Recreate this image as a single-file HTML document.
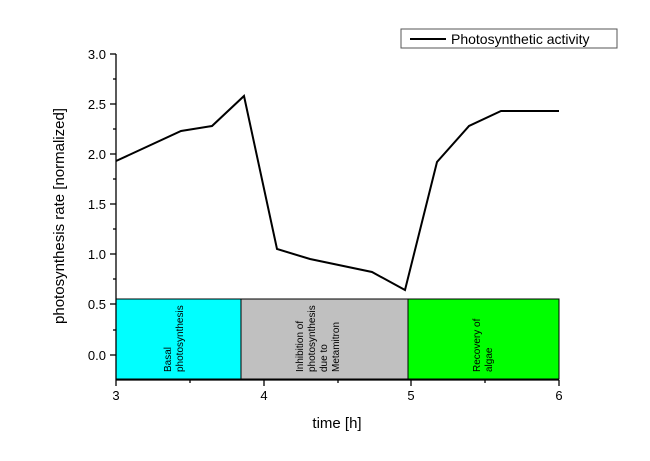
<!DOCTYPE html>
<html><head><style>body{margin:0;background:#fff}</style></head><body>
<svg width="650" height="456" xmlns="http://www.w3.org/2000/svg" font-family="Liberation Sans, sans-serif">
<rect width="650" height="456" fill="#fff"/>
<rect x="116" y="299" width="125" height="80" fill="#00ffff" stroke="#000" stroke-width="1"/>
<rect x="241" y="299" width="167" height="80" fill="#c0c0c0" stroke="#000" stroke-width="1"/>
<rect x="408" y="299" width="151" height="80" fill="#00ff00" stroke="#000" stroke-width="1"/>
<g font-size="10" fill="#000">
<text transform="translate(171,372) rotate(-90)">Basal</text>
<text transform="translate(183,372) rotate(-90)">photosynthesis</text>
<text transform="translate(303,372) rotate(-90)">Inhibition of</text>
<text transform="translate(315,372) rotate(-90)">photosynthesis</text>
<text transform="translate(327,372) rotate(-90)">due to</text>
<text transform="translate(339,372) rotate(-90)">Metamitron</text>
<text transform="translate(480,372) rotate(-90)">Recovery of</text>
<text transform="translate(492,372) rotate(-90)">algae</text>
</g>
<polyline fill="none" stroke="#000" stroke-width="2" points="116,161 181,131 212,126 244,96 277,249 310,259 372,272 405,290 437,162 469,126 501,111 559,111"/>
<g stroke="#000" stroke-width="1.3">
<line x1="116" y1="54" x2="116" y2="380"/>
<line x1="116" y1="380" x2="559" y2="380"/>
<line x1="110" y1="54" x2="116" y2="54"/><line x1="110" y1="104" x2="116" y2="104"/><line x1="110" y1="154" x2="116" y2="154"/><line x1="110" y1="204" x2="116" y2="204"/><line x1="110" y1="254" x2="116" y2="254"/><line x1="110" y1="304" x2="116" y2="304"/><line x1="110" y1="355" x2="116" y2="355"/>
<line x1="113" y1="79" x2="116" y2="79"/><line x1="113" y1="129" x2="116" y2="129"/><line x1="113" y1="179" x2="116" y2="179"/><line x1="113" y1="229" x2="116" y2="229"/><line x1="113" y1="279" x2="116" y2="279"/><line x1="113" y1="330" x2="116" y2="330"/>
<line x1="116" y1="380" x2="116" y2="386"/><line x1="264" y1="380" x2="264" y2="386"/><line x1="411" y1="380" x2="411" y2="386"/><line x1="559" y1="380" x2="559" y2="386"/>
<line x1="190" y1="380" x2="190" y2="383"/><line x1="338" y1="380" x2="338" y2="383"/><line x1="485" y1="380" x2="485" y2="383"/>
</g>
<g font-size="13" fill="#000" text-anchor="end">
<text x="106" y="59">3.0</text><text x="106" y="109">2.5</text><text x="106" y="159">2.0</text><text x="106" y="209">1.5</text><text x="106" y="259">1.0</text><text x="106" y="309">0.5</text><text x="106" y="360">0.0</text>
</g>
<g font-size="13" fill="#000" text-anchor="middle">
<text x="116" y="400">3</text><text x="264" y="400">4</text><text x="411" y="400">5</text><text x="559" y="400">6</text>
<text x="337" y="428" font-size="15">time [h]</text>
<text transform="translate(64,216) rotate(-90)" font-size="15">photosynthesis rate [normalized]</text>
</g>
<rect x="401" y="29" width="216" height="19" fill="#fff" stroke="#555" stroke-width="1"/>
<line x1="410" y1="39" x2="446" y2="39" stroke="#000" stroke-width="2"/>
<text x="451" y="44" font-size="14">Photosynthetic activity</text>
</svg>
</body></html>
